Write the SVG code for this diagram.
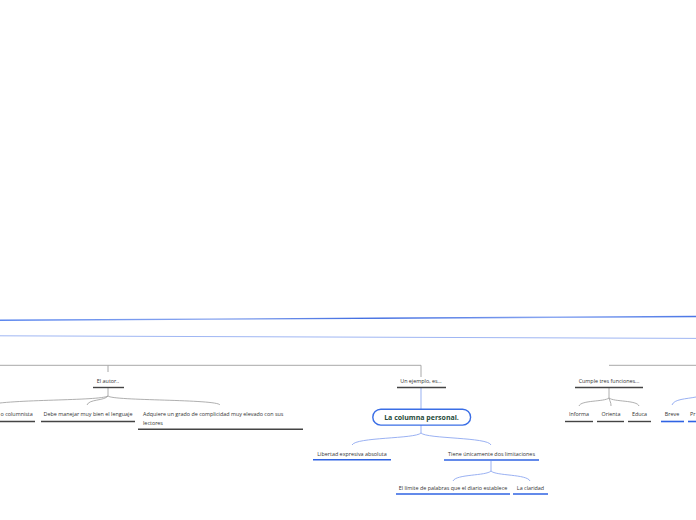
<svg xmlns="http://www.w3.org/2000/svg" width="696" height="520" viewBox="0 0 696 520">
<style>
text{font-family:"Open Sans","Noto Sans","Liberation Sans",sans-serif;font-size:5.4px;fill:#333}
.c{text-anchor:middle}
.g{fill:none;stroke:#a8a8a8;stroke-width:1}
.gc{fill:none;stroke:#9a9a9a;stroke-width:0.8}
.bc{fill:none;stroke:#8fa8f0;stroke-width:0.9}
.ul{stroke:#444;stroke-width:1.4}
.bul{stroke:#2f63e3;stroke-width:1.6}
.main{font-size:7px;font-weight:bold;fill:#1f4a3a}
</style>
<defs>
<linearGradient id="lg1" x1="0" y1="0" x2="1" y2="0">
<stop offset="0" stop-color="#5b86ee"/>
<stop offset="0.3" stop-color="#8aa6ef"/>
<stop offset="0.55" stop-color="#3a68e0"/>
<stop offset="0.8" stop-color="#8eaaf2"/>
<stop offset="1" stop-color="#4a76e6"/>
</linearGradient>
</defs>
<g id="connectors">
<line x1="0" y1="320.3" x2="696" y2="316.5" stroke="url(#lg1)" stroke-width="1.4"/>
<line x1="0" y1="335.8" x2="696" y2="338.4" stroke="#9fb6f3" stroke-width="1"/>
<path class="g" d="M0,365.3 H421 V377 M108,365.3 V372 M609,365.3 H696"/>
<path class="gc" d="M108,388 V396 M108,396 C100,401 10,399 -12,405 M108,396 C104,401 89,399 87,405 M108,396 C113,401 217,399 220,405"/>
<line x1="421" y1="388" x2="421" y2="409.3" stroke="#b5c7f5" stroke-width="1.4"/>
<path class="gc" d="M609,388 V398 M609,398 C604,402 581,400 579,406 M609,398 C610,402 611,402 611,406 M609,398 C614,402 637,400 639,406"/>
<path class="bc" d="M421,425 V433 M421,433 C415,439 356,437 352,445 M421,433 C427,439 488,437 491,445"/>
<path class="bc" d="M491,461 V471 M491,471 C486,476 456,474 453,481 M491,471 C496,476 527,474 530,481"/>
<path class="bc" d="M696,397 C686,399 674,399 672,405"/>
</g>
<g id="n-autor">
<text class="c" x="108" y="382.5">El autor..</text>
<line class="ul" x1="93" y1="387.5" x2="124" y2="387.5"/>
</g>
<g id="n-columnista">
<text x="0.5" y="416">o columnista</text>
<line class="ul" x1="0" y1="421.5" x2="35" y2="421.5"/>
</g>
<g id="n-lenguaje">
<text class="c" x="88" y="416">Debe manejar muy bien el lenguaje</text>
<line class="ul" x1="41" y1="421.5" x2="135" y2="421.5"/>
</g>
<g id="n-adquiere">
<text x="143" y="416">Adquiere un grado de complicidad muy elevado con sus</text>
<text x="143" y="425">lectores</text>
<line class="ul" x1="138" y1="429.3" x2="303" y2="429.3"/>
</g>
<g id="n-ejemplo">
<text class="c" x="421" y="382.5">Un ejemplo, es...</text>
<line class="ul" x1="397" y1="387.5" x2="446" y2="387.5"/>
</g>
<g id="n-main">
<rect x="372.8" y="409.3" width="97.8" height="15.8" rx="8" fill="#fff" stroke="#3a6ee6" stroke-width="1.4"/>
<text class="c main" x="421.5" y="419.8">La columna personal.</text>
</g>
<g id="n-libertad">
<text class="c" x="352" y="456">Libertad expresiva absoluta</text>
<line class="bul" x1="313" y1="459.8" x2="391" y2="459.8"/>
</g>
<g id="n-tiene">
<text class="c" x="491.5" y="456">Tiene únicamente dos limitaciones</text>
<line class="bul" x1="444" y1="460" x2="539" y2="460"/>
</g>
<g id="n-limite">
<text class="c" x="453" y="490">El límite de palabras que el diario establece</text>
<line class="bul" x1="396" y1="494" x2="510" y2="494"/>
</g>
<g id="n-claridad">
<text class="c" x="530.5" y="490">La claridad</text>
<line class="bul" x1="513" y1="494" x2="548" y2="494"/>
</g>
<g id="n-cumple">
<text class="c" x="609" y="382.5">Cumple tres funciones...</text>
<line class="ul" x1="575" y1="387.5" x2="643" y2="387.5"/>
</g>
<g id="n-informa">
<text class="c" x="579" y="416">Informa</text>
<line class="ul" x1="565" y1="421.5" x2="593" y2="421.5"/>
</g>
<g id="n-orienta">
<text class="c" x="611" y="416">Orienta</text>
<line class="ul" x1="597" y1="421.5" x2="624" y2="421.5"/>
</g>
<g id="n-educa">
<text class="c" x="639.5" y="416">Educa</text>
<line class="ul" x1="628" y1="421.5" x2="651" y2="421.5"/>
</g>
<g id="n-breve">
<text class="c" x="672" y="416">Breve</text>
<line class="bul" x1="661" y1="421.5" x2="684" y2="421.5"/>
</g>
<g id="n-pr">
<text x="690" y="416">Pr</text>
<line class="bul" x1="688" y1="421.5" x2="696" y2="421.5"/>
</g>
</svg>
